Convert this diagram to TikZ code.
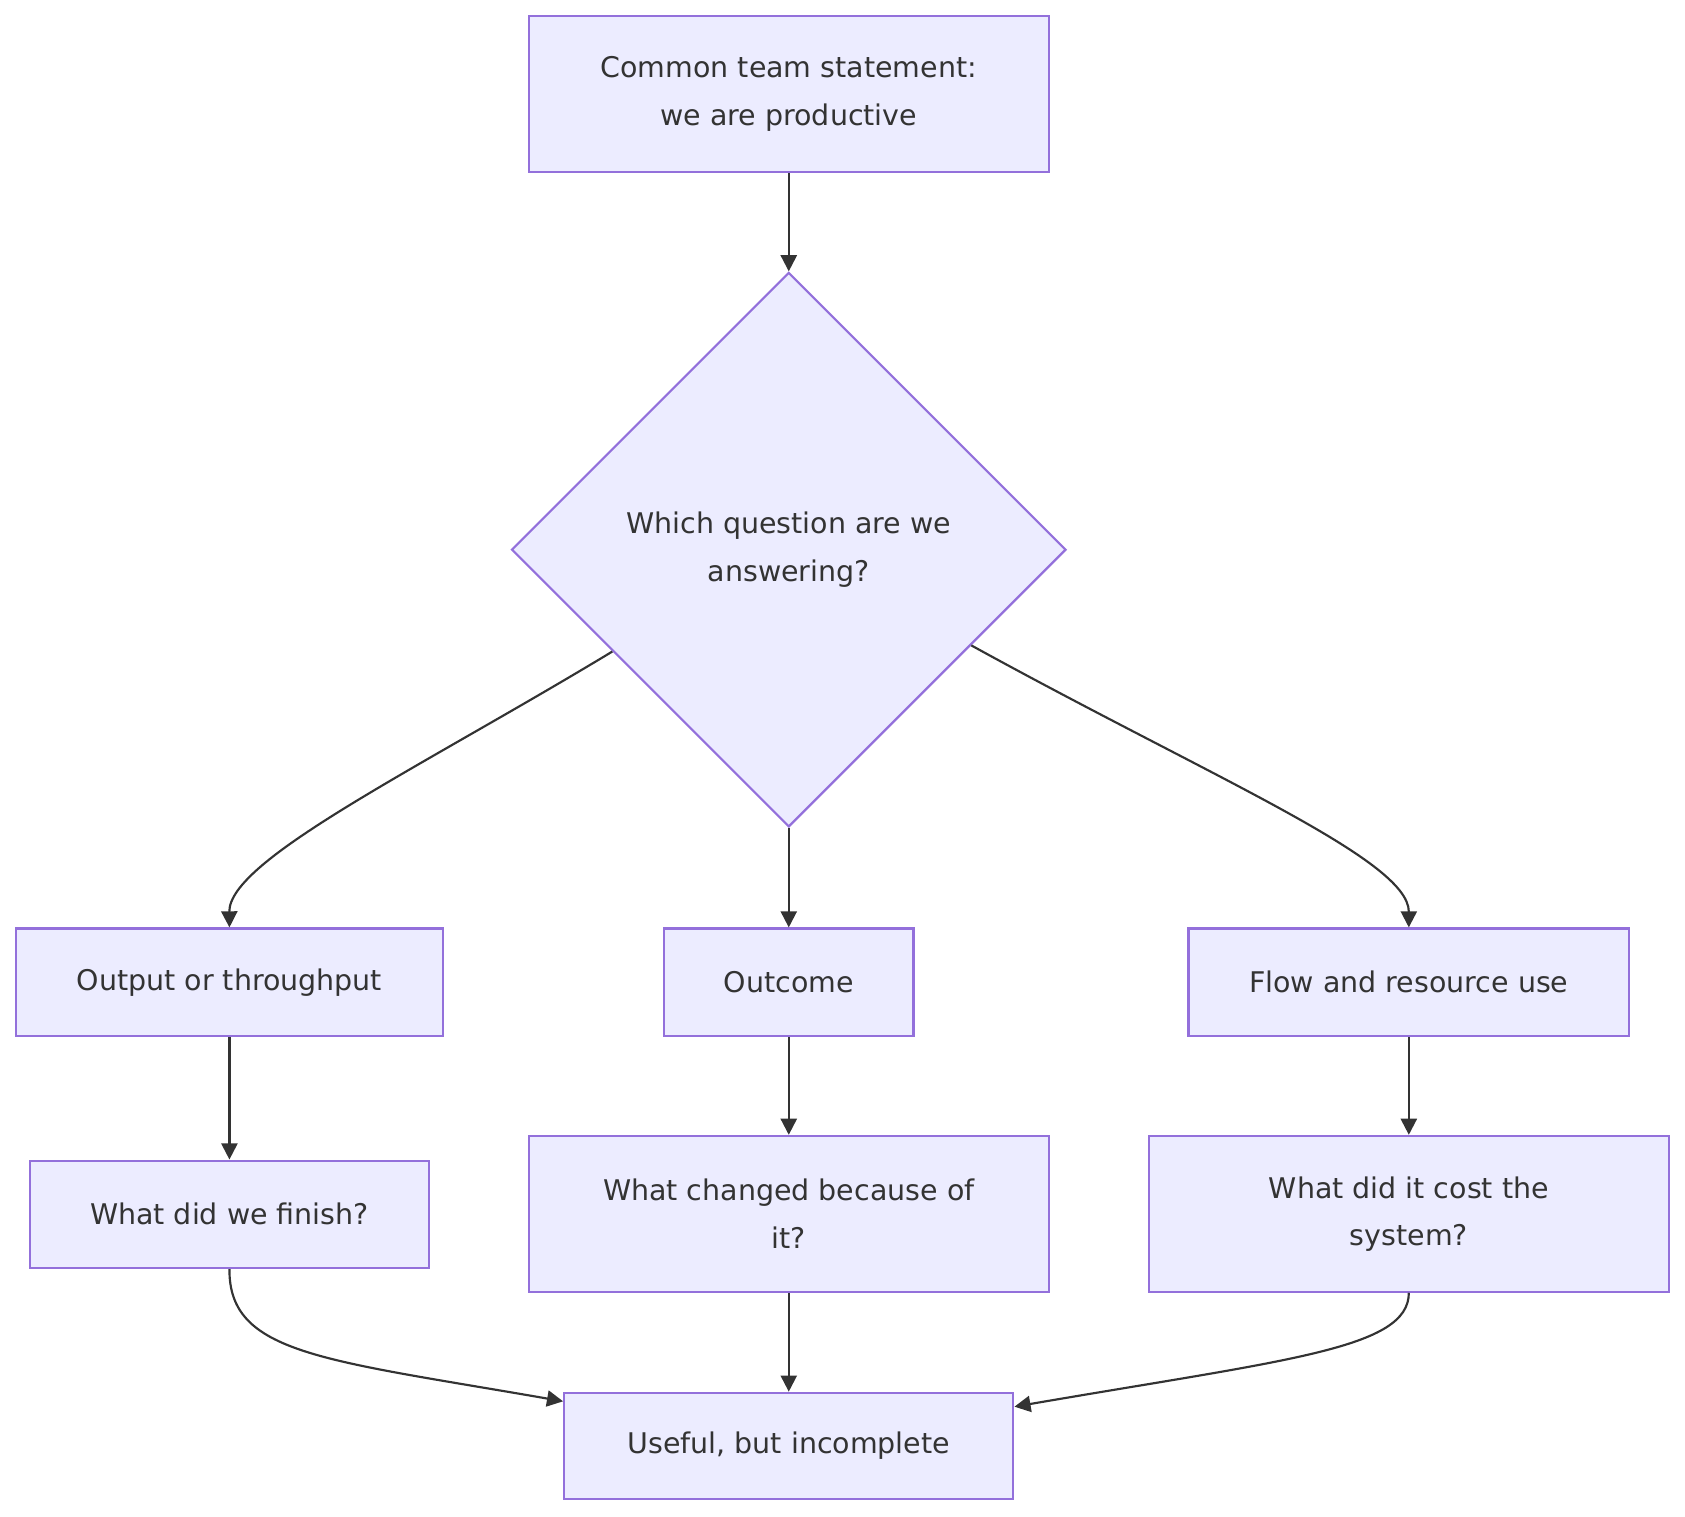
\documentclass[tikz,border=0pt]{standalone}
\usepackage{fontspec}
\setmainfont{DejaVu Sans}
\usetikzlibrary{shapes.geometric,arrows.meta,calc}
\definecolor{mfill}{HTML}{ECECFF}
\definecolor{mpurple}{HTML}{9370DB}
\definecolor{mgray}{HTML}{333333}
\tikzstyle{box}=[rectangle, draw=mpurple, fill=mfill, line width=2pt, text=mgray, align=center, inner sep=0pt, font=\fontsize{26.5}{44}\selectfont]
\tikzstyle{choice}=[diamond, draw=mpurple, fill=mfill, line width=2pt, text=mgray, align=center, inner sep=0pt, aspect=1, font=\fontsize{26.5}{44}\selectfont]
\tikzstyle{l1}=[line width=2pt, draw=mgray, -{Triangle[length=15pt,width=15pt]}]

\begin{document}
\begin{tikzpicture}[x=1pt, y=-1pt]
    \useasboundingbox (0,0) rectangle (1568,1411);
    \node[box, minimum width=484pt, minimum height=145pt] at (734, 87.5) (stmt) {Common team statement:\\we are productive};
    \node[choice, minimum width=516pt, minimum height=516pt] at (734, 511.5) (q) {Which question are we\\answering?};
    \node[box, minimum width=397pt, minimum height=100pt] at (213.5, 914) (out) {Output or throughput};
    \node[box, minimum width=232pt, minimum height=100pt] at (734, 914) (outc) {Outcome};
    \node[box, minimum width=410pt, minimum height=100pt] at (1311, 914) (flow) {Flow and resource use};
    \node[box, minimum width=371pt, minimum height=100pt] at (213.5, 1130) (fin) {What did we finish?};
    \node[box, minimum width=484pt, minimum height=145pt] at (734, 1129.5) (chg) {What changed because of\\it?};
    \node[box, minimum width=484pt, minimum height=145pt] at (1311, 1129.5) (cost) {What did it cost the\\system?};
    \node[box, minimum width=418pt, minimum height=99pt] at (734, 1345.5) (end) {Useful, but incomplete};

    \coordinate (qa) at ($(q.west)!0.366!(q.south)$);
    \coordinate (qb) at ($(q.east)!0.344!(q.south)$);
    \coordinate (ea) at ($(end.north west)+(0,9)$);
    \coordinate (eb) at ($(end.north east)+(0,14)$);

    \draw[l1] (stmt) -- (q);
    \draw[l1] (qa) .. controls (390,715) and (213,800) .. (out.north);
    \draw[l1] (q) -- (outc);
    \draw[l1] (qb) .. controls (1130,725) and (1311,800) .. (flow.north);
    \draw[l1] (out) -- (fin);
    \draw[l1] (outc) -- (chg);
    \draw[l1] (flow) -- (cost);
    \draw[l1] (fin.south) .. controls (213,1260) and (300,1265) .. (ea);
    \draw[l1] (chg) -- (end);
    \draw[l1] (cost.south) .. controls (1311,1255) and (1200,1265) .. (eb);
\end{tikzpicture}
\end{document}
